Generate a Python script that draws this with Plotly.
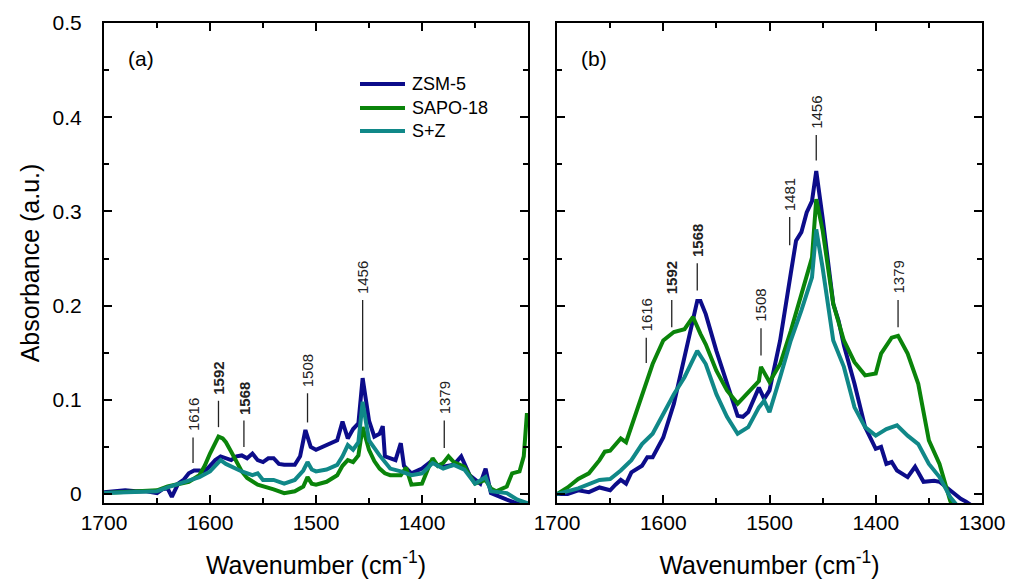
import plotly.graph_objects as go

# ---------------- data ----------------
# Panel (a)
a_zsm_x = [1700,1690,1680,1670,1660,1650,1645,1640,1636,1630,1625,1620,1615,1610,1605,1600,1595,1590,1585,1580,1575,1570,1565,1560,1555,1550,1545,1540,1535,1530,1520,1515,1510,1505,1500,1490,1480,1475,1470,1465,1460,1456,1450,1445,1440,1437,1435,1425,1420,1417,1410,1400,1390,1385,1380,1370,1363,1355,1345,1340,1335,1320,1310,1300]
a_zsm_y = [0.002,0.003,0.004,0.003,0.003,0.001,0.005,0.006,-0.003,0.011,0.015,0.022,0.025,0.025,0.024,0.030,0.036,0.040,0.038,0.036,0.040,0.041,0.038,0.043,0.036,0.034,0.038,0.038,0.032,0.031,0.031,0.040,0.068,0.050,0.047,0.052,0.057,0.077,0.059,0.069,0.075,0.123,0.078,0.061,0.064,0.072,0.040,0.036,0.054,0.030,0.022,0.027,0.036,0.030,0.029,0.031,0.040,0.020,0.011,0.027,0.001,-0.006,-0.010,-0.014]

a_sapo_x = [1700,1680,1660,1650,1640,1630,1620,1610,1605,1600,1595,1592,1588,1585,1580,1575,1570,1565,1560,1555,1540,1530,1520,1512,1508,1504,1500,1490,1480,1475,1470,1465,1460,1456,1452,1450,1445,1440,1435,1430,1420,1415,1410,1400,1395,1390,1385,1380,1375,1370,1360,1350,1340,1335,1330,1320,1315,1308,1304,1301]
a_sapo_y = [0.001,0.002,0.003,0.004,0.008,0.010,0.013,0.020,0.030,0.043,0.054,0.061,0.059,0.055,0.045,0.034,0.024,0.017,0.013,0.010,0.005,0.001,0.003,0.008,0.018,0.011,0.010,0.013,0.020,0.030,0.036,0.034,0.041,0.071,0.055,0.047,0.035,0.027,0.022,0.020,0.020,0.028,0.010,0.011,0.025,0.038,0.030,0.033,0.040,0.034,0.029,0.011,0.015,0.006,0.003,0.008,0.022,0.024,0.040,0.086]

a_sz_x = [1700,1680,1660,1650,1640,1630,1620,1610,1600,1595,1590,1585,1580,1570,1560,1555,1550,1540,1530,1520,1512,1508,1504,1500,1490,1480,1475,1470,1465,1460,1456,1452,1450,1440,1430,1420,1410,1400,1390,1380,1370,1360,1350,1340,1335,1320,1310,1300]
a_sz_y = [0.001,0.002,0.003,0.003,0.007,0.011,0.015,0.018,0.024,0.030,0.036,0.032,0.029,0.024,0.020,0.022,0.015,0.015,0.011,0.015,0.025,0.034,0.026,0.024,0.026,0.031,0.040,0.052,0.047,0.055,0.098,0.070,0.057,0.041,0.027,0.024,0.020,0.022,0.033,0.027,0.031,0.026,0.011,0.018,0.003,0.001,-0.006,-0.010]

# Panel (b)
b_zsm_x = [1700,1690,1680,1670,1660,1650,1645,1640,1635,1630,1620,1615,1610,1600,1590,1580,1575,1568,1565,1560,1550,1540,1530,1525,1520,1510,1505,1500,1490,1480,1475,1470,1465,1460,1456,1450,1445,1440,1435,1430,1420,1410,1400,1395,1390,1385,1380,1370,1363,1355,1345,1340,1330,1320,1315,1310]
b_zsm_y = [0.000,0.000,0.004,0.002,0.007,0.004,0.010,0.015,0.011,0.023,0.030,0.039,0.039,0.060,0.096,0.145,0.168,0.205,0.205,0.191,0.152,0.117,0.083,0.082,0.087,0.113,0.101,0.110,0.163,0.234,0.269,0.278,0.299,0.311,0.343,0.293,0.244,0.202,0.184,0.158,0.117,0.071,0.048,0.050,0.032,0.034,0.025,0.018,0.029,0.013,0.014,0.013,0.004,-0.005,-0.008,-0.012]

b_sapo_x = [1700,1690,1680,1670,1660,1655,1650,1645,1640,1635,1630,1620,1610,1600,1590,1580,1572,1565,1560,1550,1540,1530,1520,1510,1508,1500,1490,1480,1470,1460,1456,1450,1440,1430,1420,1410,1400,1395,1385,1379,1370,1360,1350,1340,1330,1325]
b_sapo_y = [0.000,0.007,0.016,0.022,0.036,0.045,0.046,0.052,0.059,0.055,0.071,0.106,0.138,0.163,0.172,0.175,0.188,0.170,0.159,0.131,0.110,0.096,0.108,0.120,0.135,0.119,0.138,0.173,0.212,0.251,0.313,0.280,0.202,0.163,0.140,0.126,0.128,0.149,0.166,0.168,0.149,0.117,0.057,0.032,-0.007,-0.020]

b_sz_x = [1700,1680,1660,1650,1640,1630,1620,1610,1600,1590,1580,1568,1560,1550,1540,1530,1520,1510,1505,1500,1490,1480,1470,1460,1456,1450,1440,1430,1420,1410,1400,1390,1380,1370,1360,1350,1340,1330,1320]
b_sz_y = [0.000,0.006,0.015,0.016,0.025,0.036,0.053,0.064,0.085,0.106,0.124,0.152,0.138,0.106,0.082,0.064,0.071,0.092,0.099,0.087,0.124,0.163,0.195,0.230,0.281,0.240,0.163,0.135,0.092,0.071,0.062,0.069,0.073,0.062,0.053,0.032,0.018,-0.003,-0.017]

series_names = ["ZSM-5", "SAPO-18", "S+Z"]
series_colors = ["#0c0c8a", "#0a840a", "#108888"]

# Peak labels: (wavenumber, label, bold)
a_peaks = [(1616, "1616", False), (1592, "1592", True), (1568, "1568", True),
           (1508, "1508", False), (1456, "1456", False), (1379, "1379", False)]
b_peaks = [(1616, "1616", False), (1592, "1592", True), (1568, "1568", True),
           (1508, "1508", False), (1481, "1481", False), (1456, "1456", False),
           (1379, "1379", False)]
# marker line (bottom, top) in absorbance units for each peak label
a_marks = [(0.033, 0.060), (0.071, 0.099), (0.050, 0.078), (0.076, 0.107), (0.131, 0.206), (0.049, 0.078)]
b_marks = [(0.139, 0.166), (0.177, 0.206), (0.216, 0.245), (0.147, 0.176), (0.264, 0.294), (0.354, 0.381), (0.177, 0.206)]

# ---------------- figure ----------------
FONT = "Liberation Sans, Arial"
fig = go.Figure()
panels = [
    ("x", "y", [(a_zsm_x, a_zsm_y), (a_sapo_x, a_sapo_y), (a_sz_x, a_sz_y)]),
    ("x2", "y2", [(b_zsm_x, b_zsm_y), (b_sapo_x, b_sapo_y), (b_sz_x, b_sz_y)]),
]
for xa, ya, data in panels:
    for (xs, ys), name, col in zip(data, series_names, series_colors):
        fig.add_trace(go.Scatter(x=xs, y=ys, mode="lines", name=name,
                                 line=dict(color=col, width=4),
                                 xaxis=xa, yaxis=ya, showlegend=False))

W, H = 1009, 582
L, R, T, B = 104, 27, 23, 79
pw = W - L - R
ph = H - T - B
d1 = [0, (528 - L) / pw]
d2 = [(557 - L) / pw, 1]

def xaxis_cfg(domain, anchor, vals):
    return dict(
        domain=domain, anchor=anchor, automargin=False,
        range=[1700, 1300], tickvals=vals, ticktext=[str(v) for v in vals],
        ticks="inside", ticklen=8, tickwidth=1.5, tickcolor="black",
        minor=dict(ticks="inside", dtick=50, ticklen=5, tickwidth=1.5, tickcolor="black"),
        showline=True, linecolor="black", linewidth=2, mirror="allticks",
        showgrid=False, zeroline=False,
        tickfont=dict(family=FONT, size=21, color="black"),
        title=dict(text="Wavenumber (cm<sup>-1</sup>)", standoff=23,
                   font=dict(family=FONT, size=25, color="black")),
    )

yaxis_common = dict(
    range=[-0.0095, 0.5], dtick=0.1, tick0=0, automargin=False,
    ticks="inside", ticklen=8, tickwidth=1.5, tickcolor="black",
    minor=dict(ticks="inside", dtick=0.05, ticklen=5, tickwidth=1.5, tickcolor="black"),
    showline=True, linecolor="black", linewidth=2, mirror="allticks",
    showgrid=False, zeroline=False,
    tickfont=dict(family=FONT, size=21, color="black"),
)

fig.update_layout(
    width=W, height=H,
    margin=dict(l=L, r=R, t=T, b=B),
    paper_bgcolor="white", plot_bgcolor="white",
    xaxis=xaxis_cfg(d1, "y", [1700, 1600, 1500, 1400]),
    xaxis2=xaxis_cfg(d2, "y2", [1700, 1600, 1500, 1400, 1300]),
    yaxis=dict(domain=[0, 1], anchor="x", ticklabelstandoff=16,
               title=dict(text="Absorbance (a.u.)", standoff=6,
                          font=dict(family=FONT, size=25, color="black")),
               **yaxis_common),
    yaxis2=dict(domain=[0, 1], anchor="x2", showticklabels=False, **yaxis_common),
    showlegend=False,
)

# manual legend (line sample + label), top of panel (a)
leg_x0, leg_x1, leg_text_x = 360, 405, 410
leg_rows = [84, 108, 131]
for name, col, yy in zip(series_names, series_colors, leg_rows):
    fy = 1 - (yy - T) / ph
    fig.add_shape(type="line", xref="paper", yref="paper",
                  x0=(leg_x0 - L) / pw, x1=(leg_x1 - L) / pw, y0=fy, y1=fy,
                  line=dict(color=col, width=4))
    fig.add_annotation(x=(leg_text_x - L) / pw, y=fy, xref="paper", yref="paper",
                       text=name, showarrow=False, xanchor="left", yanchor="middle",
                       font=dict(family=FONT, size=18, color="black"))

ann_font = dict(family=FONT, size=15, color="#222")
for (xa, ya, peaks, marks) in [("x", "y", a_peaks, a_marks), ("x2", "y2", b_peaks, b_marks)]:
    for (wn, lab, bold), (y0, y1) in zip(peaks, marks):
        fig.add_shape(type="line", xref=xa, yref=ya, x0=wn, x1=wn, y0=y0, y1=y1,
                      line=dict(color="#222", width=1.3))
        fig.add_annotation(x=wn, y=y1, xref=xa, yref=ya, yshift=4,
                           text=f"<b>{lab}</b>" if bold else lab, textangle=-90,
                           showarrow=False, xanchor="center", yanchor="bottom",
                           font=ann_font)

fig.add_annotation(x=1665, y=0.462, xref="x", yref="y", text="(a)", showarrow=False,
                   font=dict(family=FONT, size=21, color="black"))
fig.add_annotation(x=1665, y=0.462, xref="x2", yref="y2", text="(b)", showarrow=False,
                   font=dict(family=FONT, size=21, color="black"))

fig.write_html("out.html")
